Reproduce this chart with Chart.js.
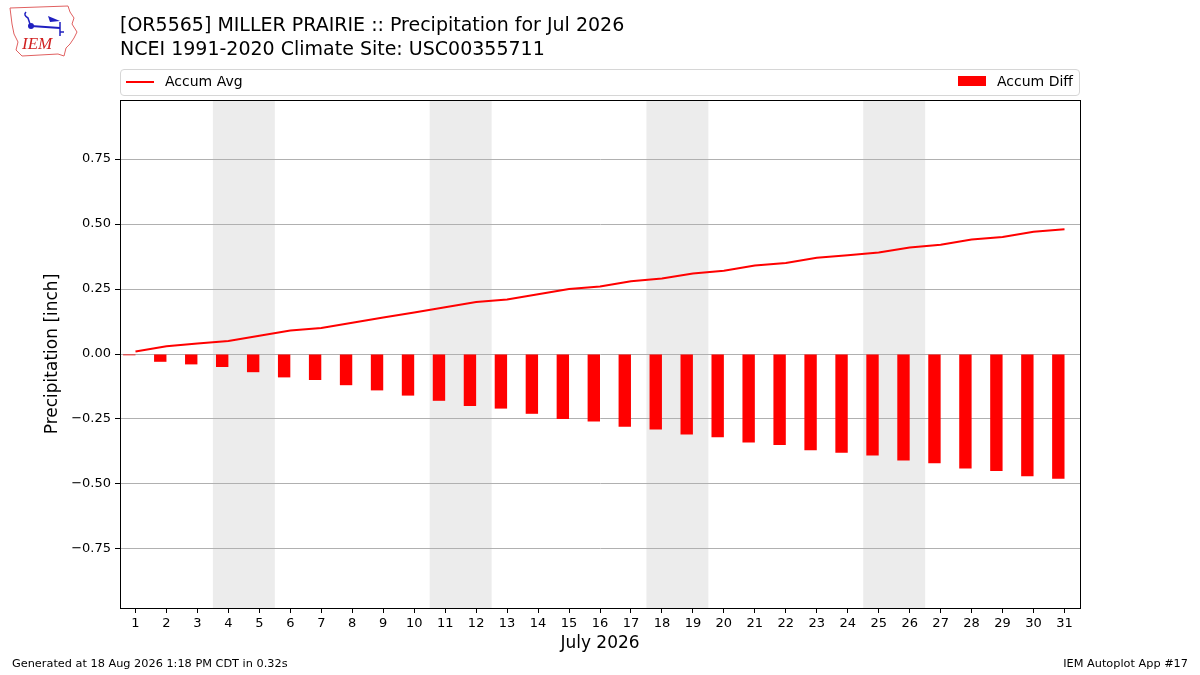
<!DOCTYPE html>
<html>
<head>
<meta charset="utf-8">
<script src="https://cdn.jsdelivr.net/npm/chart.js@4/dist/chart.umd.min.js"></script>
<style>
    body { margin: 0; background: #fff; font-family: 'DejaVu Sans', sans-serif; }
    #wrap { position: relative; width: 1200px; height: 675px; overflow: hidden; }
    #chart { position: absolute; left: 0; top: 0; }
    .title { position: absolute; left: 120px; font-size: 19px; color: #000; white-space: nowrap; }
    #legend { position: absolute; left: 120px; top: 69px; width: 958px; height: 25px; border: 1px solid #d6d6d6; border-radius: 4px; font-size: 14px; }
    .leg { position: absolute; top: 3px; white-space: nowrap; }
    .foot { position: absolute; top: 657px; font-size: 11.3px; color: #000; }
</style>
</head>
<body>
<div id="wrap">
    <canvas id="chart" width="1200" height="675"></canvas>
    <svg style="position:absolute;left:8px;top:4px" width="72" height="56" viewBox="0 0 72 56">
        <path d="M2 4 L60 2 L62 8 L66 14 L64 20 L69 28 L66 34 L62 40 L58 44 L56 52 L50 50 L14 52 L8 46 L10 38 L6 30 L4 20 Z" fill="none" stroke="#e06060" stroke-width="1"/>
        <path d="M18 8 q-3 3 2 6 l2 6" fill="none" stroke="#2020c0" stroke-width="1.5"/>
        <circle cx="23" cy="22" r="3" fill="#2020c0"/>
        <line x1="23" y1="22" x2="52" y2="24" stroke="#2020c0" stroke-width="2"/>
        <path d="M40 12 l12 5 l-10 1 z" fill="#2020c0"/>
        <path d="M52 18 v14 m0 -4 h4" fill="none" stroke="#2020c0" stroke-width="1.5"/>
        <text x="14" y="45" font-family="Liberation Serif, serif" font-style="italic" font-size="17" fill="#d02020">IEM</text>
    </svg>
    <div class="title" style="top:13px">[OR5565] MILLER PRAIRIE :: Precipitation for Jul 2026</div>
    <div class="title" style="top:37px">NCEI 1991-2020 Climate Site: USC00355711</div>
    <div id="legend">
        <span style="position:absolute;left:5px;top:11px;width:28px;height:2px;background:#ff0000"></span>
        <span class="leg" style="left:44px">Accum Avg</span>
        <span style="position:absolute;left:837px;top:6px;width:28px;height:10px;background:#ff0000"></span>
        <span class="leg" style="left:876px">Accum Diff</span>
    </div>
    <div class="foot" style="left:12px">Generated at 18 Aug 2026 1:18 PM CDT in 0.32s</div>
    <div class="foot" style="right:12px">IEM Autoplot App #17</div>
</div>
<script>
// days of July 2026
const days = [1, 2, 3, 4, 5, 6, 7, 8, 9, 10, 11, 12, 13, 14, 15, 16, 17, 18, 19, 20, 21, 22, 23, 24, 25, 26, 27, 28, 29, 30, 31];
// accumulated climatology average (inch)
const accumAvg = [0.01, 0.03, 0.04, 0.05, 0.07, 0.09, 0.10, 0.12, 0.14, 0.16, 0.18, 0.20, 0.21, 0.23, 0.25, 0.26,
    0.28, 0.29, 0.31, 0.32, 0.34, 0.35, 0.37, 0.38, 0.39, 0.41, 0.42, 0.44, 0.45, 0.47, 0.48];
// accumulated departure (inch)
const accumDiff = [-0.005, -0.03, -0.04, -0.05, -0.07, -0.09, -0.10, -0.12, -0.14, -0.16, -0.18, -0.20, -0.21, -0.23, -0.25, -0.26,
    -0.28, -0.29, -0.31, -0.32, -0.34, -0.35, -0.37, -0.38, -0.39, -0.41, -0.42, -0.44, -0.45, -0.47, -0.48];
// weekend days shaded
const weekendStarts = [4, 11, 18, 25];
const yTicks = [-0.75, -0.5, -0.25, 0, 0.25, 0.5, 0.75];

// shade weekends and frame the plot
const framePlugin = {
    id: 'frame',
    beforeDraw(chart) {
        const c = chart.ctx, a = chart.chartArea, x = chart.scales.x;
        c.save();
        c.fillStyle = '#ececec';
        weekendStarts.forEach(function(d) {
            const x0 = x.getPixelForValue(d - 0.5), x1 = x.getPixelForValue(d + 1.5);
            c.fillRect(x0, a.top, x1 - x0, a.bottom - a.top);
        });
        c.restore();
    },
    afterDraw(chart) {
        const c = chart.ctx, a = chart.chartArea;
        c.save();
        c.strokeStyle = '#000';
        c.lineWidth = 1;
        c.strokeRect(a.left + 0.5, a.top + 0.5, a.right - a.left, a.bottom - a.top);
        c.restore();
    }
};

const ctx = document.getElementById('chart').getContext('2d');
new Chart(ctx, {
    type: 'bar',
    data: {
        datasets: [{
            type: 'line',
            label: 'Accum Avg',
            data: days.map((d, i) => ({ x: d, y: accumAvg[i] })),
            borderColor: '#ff0000',
            borderWidth: 2,
            pointRadius: 0,
            tension: 0,
            fill: false
        }, {
            label: 'Accum Diff',
            // bars sit just left of each day tick
            data: days.map((d, i) => ({ x: d - 0.2, y: accumDiff[i] })),
            backgroundColor: '#ff0000',
            barPercentage: 0.4,
            categoryPercentage: 1
        }]
    },
    options: {
        responsive: false,
        animation: false,
        devicePixelRatio: 1,
        layout: { padding: { top: 100, right: 120, left: 0, bottom: 0 } },
        plugins: { legend: { display: false }, tooltip: { enabled: false } },
        scales: {
            x: {
                type: 'linear',
                min: 0.5,
                max: 31.5,
                offset: false,
                afterBuildTicks: s => { s.ticks = days.map(v => ({ value: v })); },
                afterFit: s => { s.height = 67; },
                grid: { offset: false, drawOnChartArea: false, drawTicks: true, tickLength: 5, tickColor: '#000' },
                border: { display: true, color: '#000' },
                ticks: { color: '#000', font: { family: 'DejaVu Sans', size: 13 }, padding: 3, maxRotation: 0, autoSkip: false },
                title: { display: true, text: 'July 2026', color: '#000', font: { family: 'DejaVu Sans', size: 17 }, padding: { bottom: 21 } }
            },
            y: {
                min: -0.977,
                max: 0.977,
                afterBuildTicks: s => { s.ticks = yTicks.map(v => ({ value: v })); },
                afterFit: s => { s.width = 120; },
                grid: { color: '#b0b0b0', drawTicks: true, tickLength: 5, tickColor: '#000' },
                border: { display: true, color: '#000' },
                ticks: {
                    color: '#000', font: { family: 'DejaVu Sans', size: 13 }, padding: 4,
                    callback: v => (v < 0 ? '\u2212' : '') + Math.abs(v).toFixed(2)
                },
                title: { display: true, text: 'Precipitation [inch]', color: '#000', font: { family: 'DejaVu Sans', size: 17 }, padding: { top: 42 } }
            }
        }
    },
    plugins: [framePlugin]
});
</script>
</body>
</html>
